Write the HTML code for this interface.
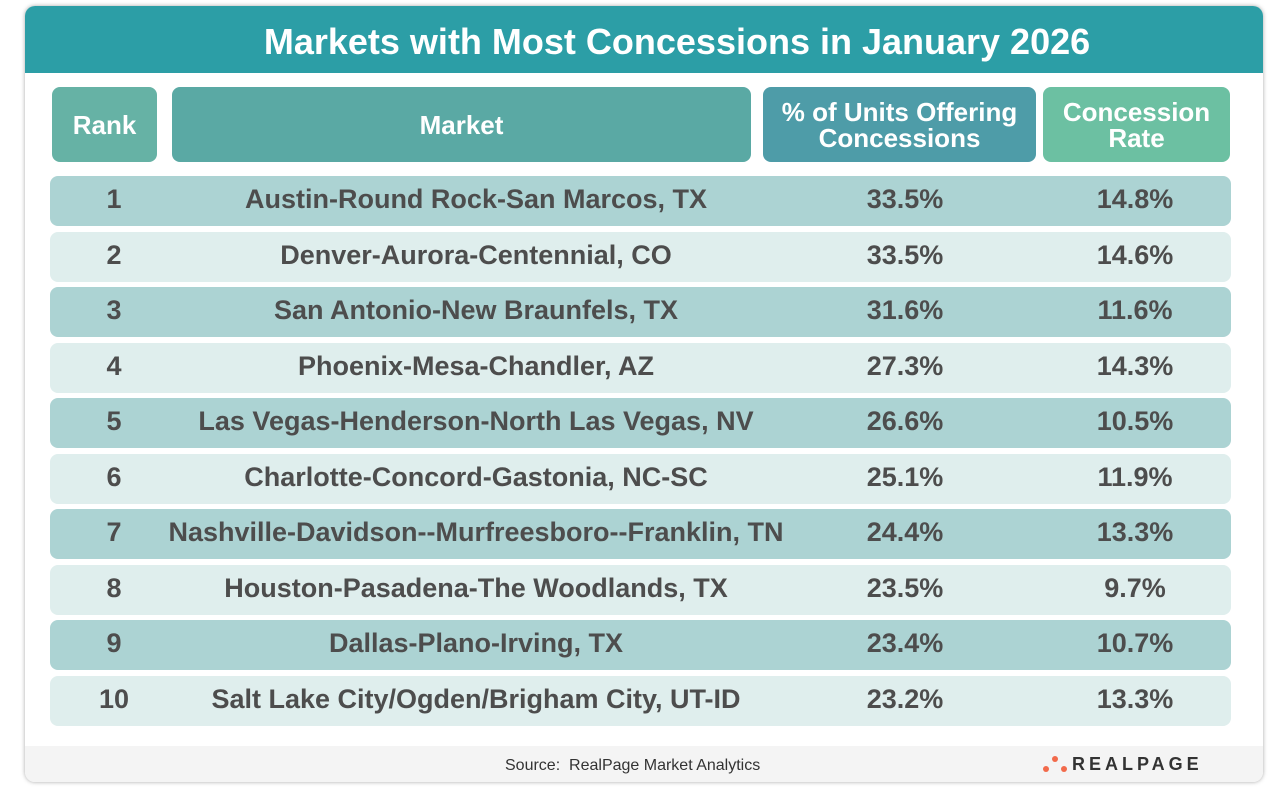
<!DOCTYPE html>
<html><head><style>
body{margin:0;width:1280px;height:789px;background:#fff;font-family:"Liberation Sans",sans-serif;position:relative;overflow:hidden}
.card{position:absolute;left:25px;top:6px;width:1238px;height:776px;border-radius:10px;background:#fff;box-shadow:0 0 4px rgba(0,0,0,.35);overflow:hidden}
.title{position:absolute;left:33px;top:0;width:100%;height:67px;color:#fff;font-size:36px;font-weight:bold;text-align:center;line-height:72px}
.h{position:absolute;top:81px;height:75px;border-radius:8px;color:#fff;font-weight:bold;font-size:26px;display:flex;align-items:center;justify-content:center;text-align:center;line-height:26px}
.r{position:absolute;left:25px;width:1181px;height:50px;border-radius:8px;color:#4d4d4d;font-size:27px;font-weight:bold}
.r span{position:absolute;top:-2px;line-height:50px;transform:translateX(-50%);white-space:nowrap}
.d{background:#acd3d3}.l{background:#dfeeed}
.foot{position:absolute;left:0;top:740px;width:100%;height:36px;background:#f4f4f4}
</style></head><body>
<div class="card">
<div style="position:absolute;left:0;top:0;width:100%;height:67px;background:#2c9ea6"></div>
<div class="title">Markets with Most Concessions in January 2026</div>
<div class="h" style="left:27px;width:105px;background:#66b2a5">Rank</div>
<div class="h" style="left:147px;width:579px;background:#5aa9a4">Market</div>
<div class="h" style="left:738px;width:273px;background:#4e9ca8">% of Units Offering<br>Concessions</div>
<div class="h" style="left:1018px;width:187px;background:#6cc0a2">Concession<br>Rate</div>
<div id="rows"></div>
<div class="foot"><div style="position:absolute;left:480px;top:11px;font-size:16px;color:#333">Source:&nbsp; RealPage Market Analytics</div>
<div style="position:absolute;left:1018px;top:10px;width:30px;height:20px">
<div style="position:absolute;left:9px;top:0;width:6px;height:6px;border-radius:50%;background:#f26a4b"></div>
<div style="position:absolute;left:0;top:10px;width:6px;height:6px;border-radius:50%;background:#f26a4b"></div>
<div style="position:absolute;left:18px;top:10px;width:6px;height:6px;border-radius:50%;background:#f26a4b"></div></div>
<div style="position:absolute;left:1047px;top:8px;font-size:18px;font-weight:bold;letter-spacing:4px;color:#333">REALPAGE</div></div>
</div>
<script>
var d=[["1","Austin-Round Rock-San Marcos, TX","33.5%","14.8%"],["2","Denver-Aurora-Centennial, CO","33.5%","14.6%"],["3","San Antonio-New Braunfels, TX","31.6%","11.6%"],["4","Phoenix-Mesa-Chandler, AZ","27.3%","14.3%"],["5","Las Vegas-Henderson-North Las Vegas, NV","26.6%","10.5%"],["6","Charlotte-Concord-Gastonia, NC-SC","25.1%","11.9%"],["7","Nashville-Davidson--Murfreesboro--Franklin, TN","24.4%","13.3%"],["8","Houston-Pasadena-The Woodlands, TX","23.5%","9.7%"],["9","Dallas-Plano-Irving, TX","23.4%","10.7%"],["10","Salt Lake City/Ogden/Brigham City, UT-ID","23.2%","13.3%"]];
var h="";d.forEach(function(r,i){h+='<div class="r '+(i%2?'l':'d')+'" style="top:'+(170+i*55.5)+'px"><span style="left:64px">'+r[0]+'</span><span style="left:426px">'+r[1]+'</span><span style="left:855px">'+r[2]+'</span><span style="left:1085px">'+r[3]+'</span></div>'});
document.getElementById("rows").innerHTML=h;
</script>
</body></html>
